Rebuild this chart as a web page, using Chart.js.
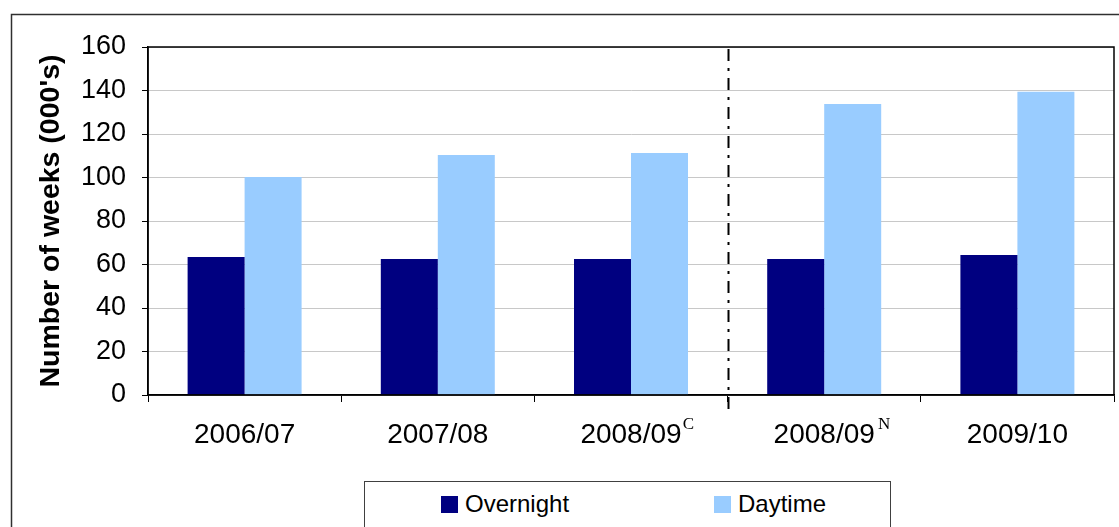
<!DOCTYPE html>
<html>
<head>
<meta charset="utf-8">
<script src="https://cdn.jsdelivr.net/npm/chart.js@4/dist/chart.umd.min.js"></script>
<style>
  html, body { margin: 0; padding: 0; background: #fff; overflow: hidden; }
  #wrap { position: absolute; left: 0; top: 0; width: 1119px; height: 527px; }
  #legend { position: absolute; left: 364px; top: 481px; width: 527px; height: 70px;
            border: 1px solid #404040; background: #fff; box-sizing: border-box; }
  .lg-item { position: absolute; top: 0; height: 44px; display: flex; align-items: center;
             font-family: "Liberation Sans", Arial, sans-serif; font-size: 24px; color: #000; }
  .lg-box { width: 17px; height: 17px; margin-right: 7px; }
</style>
</head>
<body>
<div id="wrap">
  <canvas id="c" width="1119" height="527"></canvas>
  <div id="legend"></div>
</div>
<script>
const categories = ['2006/07', '2007/08', '2008/09', '2008/09', '2009/10'];
const superscripts = ['', '', 'C', 'N', ''];
const overnight = [63.4, 62.5, 62.5, 62.5, 64.4];
const daytime = [100.2, 110.3, 111.3, 133.8, 139.4];
const yTicks = [0, 20, 40, 60, 80, 100, 120, 140, 160];
const seriesNames = ['Overnight', 'Daytime'];
const seriesColors = ['#000080', '#99CCFF'];

Chart.defaults.font.family = '"Liberation Sans", Arial, sans-serif';
Chart.defaults.color = '#000';

const decor = {
  id: 'decor',
  beforeDraw(chart) {
    const ctx = chart.ctx;
    ctx.save();
    ctx.strokeStyle = '#303030';
    ctx.lineWidth = 1.5;
    ctx.beginPath();
    ctx.moveTo(11.5, 600);
    ctx.lineTo(11.5, 14.5);
    ctx.lineTo(1200, 14.5);
    ctx.stroke();
    ctx.restore();
  },
  afterDraw(chart) {
    const ctx = chart.ctx;
    const a = chart.chartArea;
    const xs = chart.scales.x;
    ctx.save();
    // plot border
    ctx.strokeStyle = '#000';
    ctx.lineWidth = 1.5;
    ctx.strokeRect(a.left, a.top, a.right - a.left, a.bottom - a.top);
    // dash-dot separator between index 2 and 3
    const sx = Math.round((xs.getPixelForValue(2) + xs.getPixelForValue(3)) / 2) + 0.5;
    ctx.setLineDash([12, 7, 3, 7]);
    ctx.lineWidth = 2;
    ctx.beginPath();
    ctx.moveTo(sx, a.top + 2);
    ctx.lineTo(sx, a.bottom + 18);
    ctx.stroke();
    ctx.setLineDash([]);
    // superscripts
    ctx.font = '27px "Liberation Sans", Arial, sans-serif';
    const widths = categories.map(c => ctx.measureText(c).width);
    ctx.font = '17px "Liberation Serif", "Times New Roman", serif';
    ctx.fillStyle = '#000';
    ctx.textBaseline = 'alphabetic';
    ctx.textAlign = 'left';
    superscripts.forEach((s, i) => {
      if (!s) return;
      const x = xs.getPixelForValue(i) + widths[i] / 2 + (s === 'N' ? 5 : 3);
      ctx.fillText(s, x, 429);
    });
    ctx.restore();
  }
};

const chart = new Chart(document.getElementById('c'), {
  type: 'bar',
  data: {
    labels: categories,
    datasets: [
      { label: seriesNames[0], data: overnight, backgroundColor: seriesColors[0], borderWidth: 0,
        categoryPercentage: 0.59, barPercentage: 1.0 },
      { label: seriesNames[1], data: daytime, backgroundColor: seriesColors[1], borderWidth: 0,
        categoryPercentage: 0.59, barPercentage: 1.0 }
    ]
  },
  options: {
    responsive: false,
    animation: false,
    devicePixelRatio: 1,
    layout: { padding: { left: 37, top: 47, right: 5, bottom: 72 } },
    plugins: { legend: { display: false }, tooltip: { enabled: false } },
    scales: {
      x: {
        grid: { drawOnChartArea: false, drawTicks: true, tickLength: 7, tickColor: '#000', offset: true, lineWidth: 1 },
        border: { color: '#000', width: 1.5 },
        ticks: { font: { size: 28 }, color: '#000', padding: 16, maxRotation: 0, autoSkip: false },
        afterFit(s) { s.height = 60; }
      },
      y: {
        min: 0, max: 160,
        afterBuildTicks(s) { s.ticks = yTicks.map(v => ({ value: v })); },
        grid: { color: '#c8c8c8', lineWidth: 1, drawTicks: true, tickLength: 6, tickColor: '#000' },
        border: { color: '#000', width: 1.5 },
        ticks: { font: { size: 27 }, color: '#000', padding: 16 },
        title: { display: true, text: "Number of weeks (000's)", font: { size: 28.5, weight: 'bold', lineHeight: 1 }, color: '#000', padding: 0 },
        afterFit(s) { s.width = 111; }
      }
    }
  },
  plugins: [decor]
});

// HTML legend built from the chart datasets
const legendEl = document.getElementById('legend');
const itemLefts = [76, 349];
chart.data.datasets.forEach((ds, i) => {
  const item = document.createElement('div');
  item.className = 'lg-item';
  item.style.left = itemLefts[i] + 'px';
  const box = document.createElement('span');
  box.className = 'lg-box';
  box.style.background = ds.backgroundColor;
  const txt = document.createElement('span');
  txt.textContent = ds.label;
  item.appendChild(box);
  item.appendChild(txt);
  legendEl.appendChild(item);
});
</script>
</body>
</html>
